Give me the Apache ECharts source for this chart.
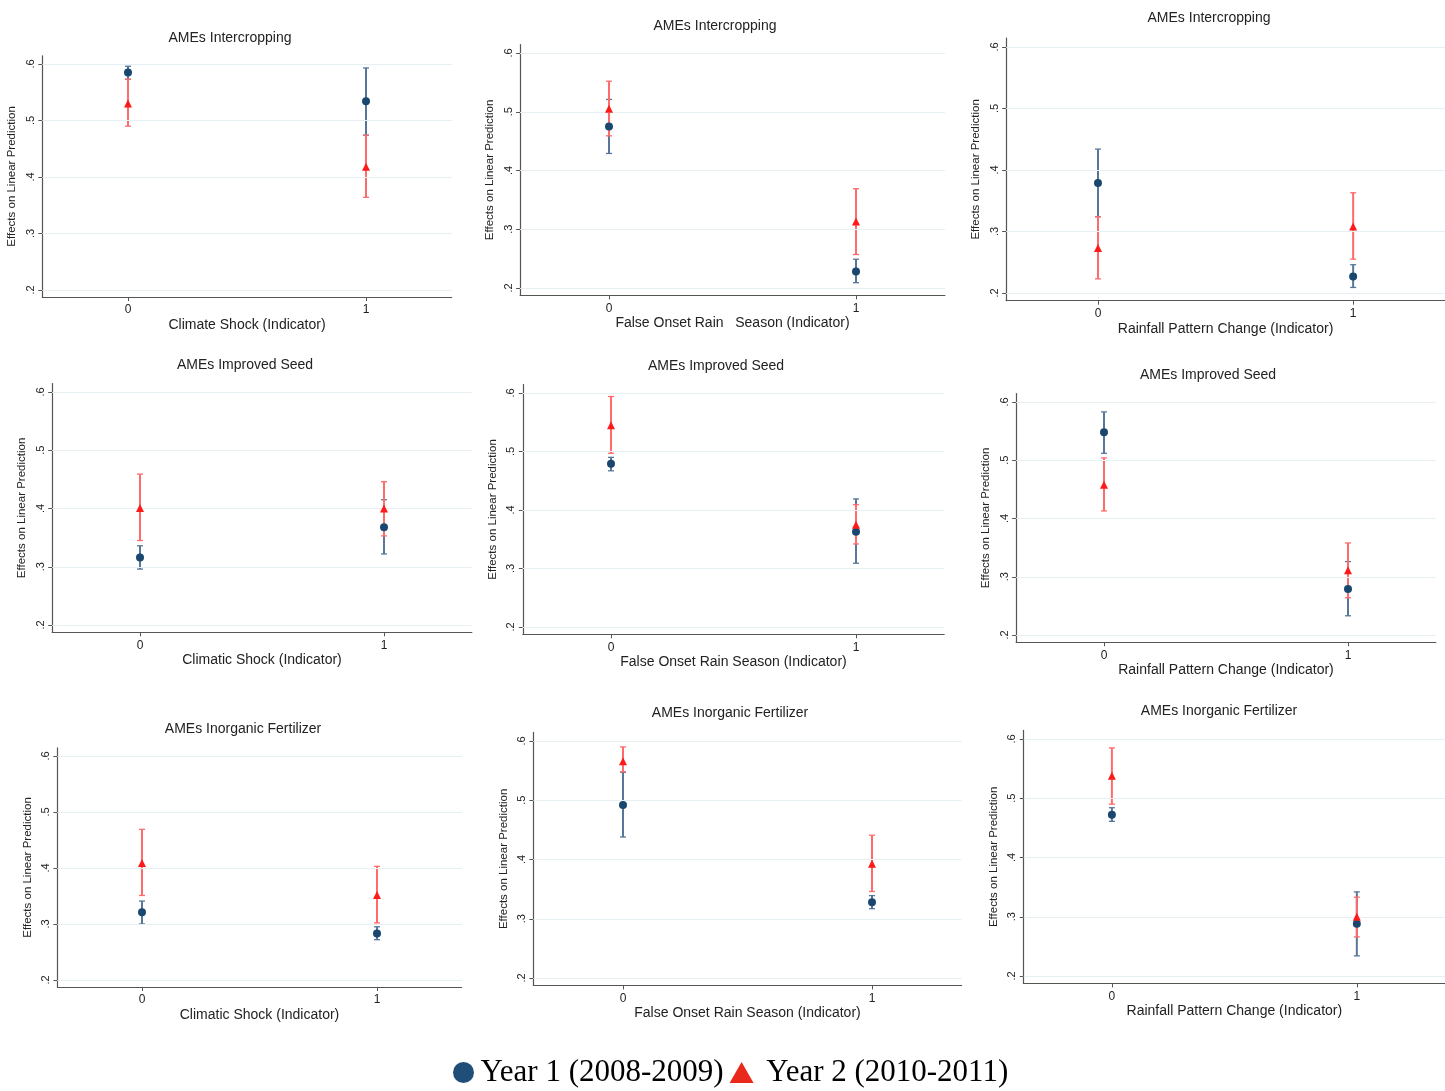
<!DOCTYPE html>
<html>
<head>
<meta charset="utf-8">
<script src="https://cdn.jsdelivr.net/npm/echarts@6/dist/echarts.min.js"></script>
<style>
html,body{margin:0;padding:0;background:#fff;}
#chart{width:1445px;height:1091px;}
</style>
</head>
<body>
<div id="chart"></div>
<script>
// ---------------- DATA ----------------
const panelTitles = [
  'AMEs Intercropping', 'AMEs Intercropping', 'AMEs Intercropping',
  'AMEs Improved Seed', 'AMEs Improved Seed', 'AMEs Improved Seed',
  'AMEs Inorganic Fertilizer', 'AMEs Inorganic Fertilizer', 'AMEs Inorganic Fertilizer'
];
const xTitles = [
  'Climate Shock (Indicator)', 'False Onset Rain   Season (Indicator)', 'Rainfall Pattern Change (Indicator)',
  'Climatic Shock (Indicator)', 'False Onset Rain Season (Indicator)', 'Rainfall Pattern Change (Indicator)',
  'Climatic Shock (Indicator)', 'False Onset Rain Season (Indicator)', 'Rainfall Pattern Change (Indicator)'
];
const yAxisTitle = 'Effects on Linear Prediction';
const yearLabels = ['Year 1 (2008-2009)', 'Year 2 (2010-2011)'];
const xCategories = [0, 1];
const yTicks = [0.2, 0.3, 0.4, 0.5, 0.6];
const yTickLabels = ['.2', '.3', '.4', '.5', '.6'];

// Year 1 (2008-2009): estimate and CI bounds, at x = 0 and x = 1, per panel
const year1Est  = [[0.585,0.534],[0.475,0.228],[0.379,0.227],[0.316,0.368],[0.479,0.363],[0.548,0.279],[0.321,0.283],[0.492,0.328],[0.472,0.288]];
const year1Low  = [[0.573,0.474],[0.429,0.209],[0.324,0.209],[0.296,0.322],[0.467,0.309],[0.512,0.233],[0.300,0.272],[0.438,0.317],[0.461,0.234]];
const year1High = [[0.596,0.593],[0.521,0.249],[0.434,0.246],[0.336,0.415],[0.490,0.419],[0.583,0.326],[0.341,0.295],[0.547,0.339],[0.484,0.342]];
// Year 2 (2010-2011)
const year2Est  = [[0.530,0.418],[0.505,0.313],[0.273,0.308],[0.401,0.400],[0.545,0.375],[0.458,0.311],[0.409,0.352],[0.566,0.393],[0.538,0.300]];
const year2Low  = [[0.490,0.364],[0.459,0.257],[0.223,0.255],[0.345,0.353],[0.497,0.342],[0.413,0.264],[0.351,0.302],[0.548,0.346],[0.490,0.266]];
const year2High = [[0.573,0.474],[0.552,0.369],[0.324,0.363],[0.459,0.446],[0.594,0.409],[0.504,0.358],[0.469,0.403],[0.590,0.441],[0.585,0.333]];

// ---------------- LAYOUT (pixel anchors of each panel) ----------------
// x0/x1: pixel of x=0 and x=1 ; y6/y2: pixel of y=.6 and y=.2 ; tx/ty: title centre
const panelLayout = [
  {x0:128, x1:366, y6:64,  y2:290, tx:230,  ty:37},
  {x0:609, x1:856, y6:53,  y2:288, tx:715,  ty:25},
  {x0:1099,x1:1357,y6:47,  y2:293, tx:1209, ty:17},
  {x0:140, x1:384, y6:392, y2:625, tx:245,  ty:364},
  {x0:611, x1:856, y6:393, y2:627, tx:716,  ty:365},
  {x0:1104,x1:1348,y6:402, y2:635, tx:1208, ty:374},
  {x0:142, x1:377, y6:756, y2:980, tx:243,  ty:728},
  {x0:623, x1:872, y6:741, y2:978, tx:730,  ty:712},
  {x0:1113,x1:1361,y6:739, y2:976, tx:1219, ty:710}
];
const X_MIN = -0.36, X_MAX = 1.36, Y_MIN = 0.1875, Y_MAX = 0.6145;

const FONT = "'Liberation Sans', Arial, Helvetica, sans-serif";
const BLUE = '#1a476f', BLUE_CI = '#56779a';
const RED = '#ff1a1a', RED_CI = '#ff6b6b';
const AXIS_COLOR = '#555';
const GRID_COLOR = '#e6eff1';

function errorBarRenderer(color) {
  return function (params, api) {
    const x = api.value(0), lo = api.value(1), hi = api.value(2);
    const a = api.coord([x, lo]), b = api.coord([x, hi]);
    const cap = 3;
    return {
      type: 'group',
      children: [
        {type:'line', shape:{x1:a[0], y1:a[1], x2:b[0], y2:b[1]}, style:{stroke:color, lineWidth:2}},
        {type:'line', shape:{x1:a[0]-cap, y1:a[1], x2:a[0]+cap, y2:a[1]}, style:{stroke:color, lineWidth:1.3}},
        {type:'line', shape:{x1:b[0]-cap, y1:b[1], x2:b[0]+cap, y2:b[1]}, style:{stroke:color, lineWidth:1.3}}
      ]
    };
  };
}

const grids = [], xAxes = [], yAxes = [], series = [], titles = [];
panelLayout.forEach((L, i) => {
  const unit = L.x1 - L.x0;
  const ys = (L.y2 - L.y6) / 0.4;
  grids.push({
    left: L.x0 + X_MIN * unit,
    width: (X_MAX - X_MIN) * unit,
    top: L.y6 - (Y_MAX - 0.6) * ys,
    height: (Y_MAX - Y_MIN) * ys,
    containLabel: false
  });
  xAxes.push({
    type: 'value', gridIndex: i, min: X_MIN, max: X_MAX,
    name: xTitles[i], nameLocation: 'middle', nameGap: 21,
    nameTextStyle: {fontFamily: FONT, fontSize: 14, color: '#222'},
    axisLine: {show: true, onZero: false, lineStyle: {color: AXIS_COLOR, width: 1.2}},
    axisTick: {show: true, customValues: xCategories, length: 4, lineStyle: {color: AXIS_COLOR}},
    axisLabel: {customValues: xCategories, fontFamily: FONT, fontSize: 12, color: '#222', margin: 7,
                formatter: v => String(v)},
    splitLine: {show: false}
  });
  yAxes.push({
    type: 'value', gridIndex: i, min: Y_MIN, max: Y_MAX,
    name: yAxisTitle, nameLocation: 'middle', nameGap: 24, nameRotate: 90,
    nameTextStyle: {fontFamily: FONT, fontSize: 11.5, color: '#222'},
    axisLine: {show: true, onZero: false, lineStyle: {color: AXIS_COLOR, width: 1.2}},
    axisTick: {show: true, customValues: yTicks, length: 4, lineStyle: {color: AXIS_COLOR}},
    axisLabel: {customValues: yTicks, rotate: 90, fontFamily: FONT, fontSize: 11, color: '#222', margin: 6,
                formatter: v => { const k = yTicks.findIndex(t => Math.abs(t - v) < 1e-6); return k >= 0 ? yTickLabels[k] : ''; }},
    splitLine: {show: false}
  });
  titles.push({
    text: panelTitles[i], left: L.tx, top: L.ty - 6, textAlign: 'center', padding: 0,
    textStyle: {fontFamily: FONT, fontSize: 14, fontWeight: 'normal', color: '#222'}
  });
  // grid lines (at y tick values)
  series.push({
    type: 'line', xAxisIndex: i, yAxisIndex: i, data: [], silent: true,
    markLine: {silent: true, symbol: 'none', label: {show: false},
      lineStyle: {color: GRID_COLOR, width: 1.2, type: 'solid'},
      data: yTicks.map(v => ({yAxis: v}))}
  });
  series.push({
    type: 'custom', xAxisIndex: i, yAxisIndex: i, silent: true,
    renderItem: errorBarRenderer(BLUE_CI),
    encode: {x: 0, y: [1, 2]},
    data: xCategories.map((x, k) => [x, year1Low[i][k], year1High[i][k]]),
    z: 3
  });
  series.push({
    type: 'custom', xAxisIndex: i, yAxisIndex: i, silent: true,
    renderItem: errorBarRenderer(RED_CI),
    encode: {x: 0, y: [1, 2]},
    data: xCategories.map((x, k) => [x, year2Low[i][k], year2High[i][k]]),
    z: 3
  });
  series.push({
    type: 'scatter', name: yearLabels[0], xAxisIndex: i, yAxisIndex: i,
    symbol: 'circle', symbolSize: 8, itemStyle: {color: BLUE, opacity: 1},
    data: xCategories.map((x, k) => [x, year1Est[i][k]]), z: 5
  });
  series.push({
    type: 'scatter', name: yearLabels[1], xAxisIndex: i, yAxisIndex: i,
    symbol: 'triangle', symbolSize: 8, itemStyle: {color: RED, opacity: 1},
    data: xCategories.map((x, k) => [x, year2Est[i][k]]), z: 5
  });
});

const chart = echarts.init(document.getElementById('chart'), null, {renderer: 'canvas'});
chart.setOption({
  backgroundColor: '#fff',
  animation: false,
  title: titles,
  grid: grids,
  xAxis: xAxes,
  yAxis: yAxes,
  legend: {
    data: [
      {name: yearLabels[0], icon: 'circle', itemStyle: {color: '#1f4e79', opacity: 1}},
      {name: yearLabels[1], icon: 'triangle', itemStyle: {color: '#e8291c', opacity: 1}}
    ],
    formatter: name => (name === yearLabels[1] ? ' ' + name : name),
    top: 1057, left: 453, padding: 0,
    itemWidth: 24, itemHeight: 21, itemGap: 6,
    textStyle: {fontFamily: "'Liberation Serif', 'Times New Roman', serif", fontSize: 31, color: '#000'},
    selectedMode: false
  },
  series: series
});
</script>
</body>
</html>
